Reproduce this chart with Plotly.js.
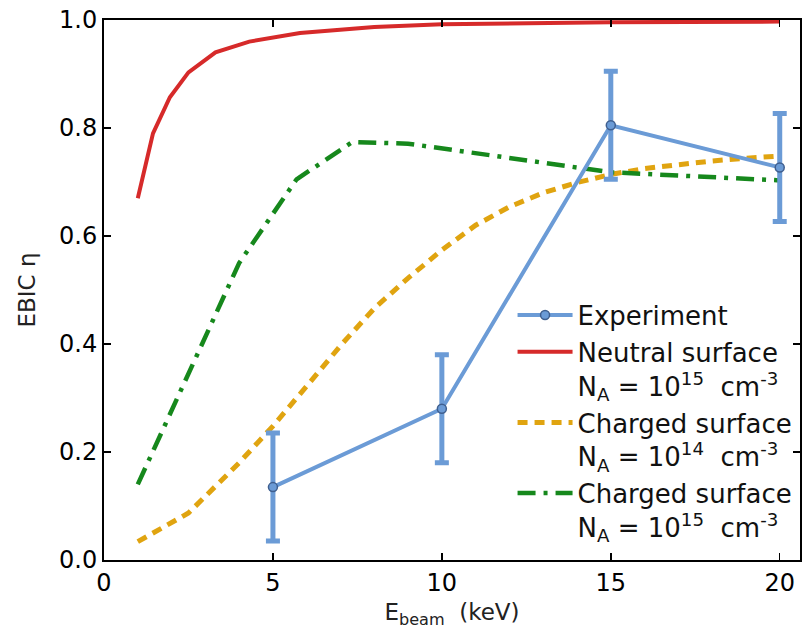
<!DOCTYPE html>
<html>
<head>
<meta charset="utf-8">
<script src="https://cdn.plot.ly/plotly-3.0.1.min.js"></script>
<style>html,body{margin:0;padding:0;background:#fff}#chart{width:802px;height:639px}</style>
</head>
<body>
<div id="chart"></div>
<script>
// Experiment
const expX = [5, 10, 15, 20];
const expY = [0.135, 0.28, 0.805, 0.727];
const expErr = [0.1, 0.1, 0.1, 0.1];

// Neutral surface, N_A = 1e15
const neutralX = [1, 1.45, 1.95, 2.5, 3.3, 4.3, 5.8, 7, 8, 10, 12, 15, 20];
const neutralY = [0.67, 0.79, 0.857, 0.903, 0.94, 0.96, 0.976, 0.983, 0.987, 0.992, 0.994, 0.996, 0.997];

// Charged surface, N_A = 1e14
const charged14X = [1, 2.5, 4, 5, 6, 7, 8, 9, 10, 11, 12, 13, 14, 15, 16, 17, 18, 19, 20];
const charged14Y = [0.034, 0.087, 0.18, 0.248, 0.322, 0.397, 0.466, 0.522, 0.574, 0.62, 0.654, 0.68, 0.699, 0.714, 0.725, 0.733, 0.739, 0.744, 0.748];

// Charged surface, N_A = 1e15
const charged15X = [1, 4, 5.7, 7.35, 9, 12, 15, 20];
const charged15Y = [0.14, 0.55, 0.705, 0.774, 0.771, 0.745, 0.718, 0.703];

const xTicks = [0, 5, 10, 15, 20];
const yTicks = [0.0, 0.2, 0.4, 0.6, 0.8, 1.0];

const FONT = "DejaVu Sans";

const traces = [
  {
    x: neutralX, y: neutralY, mode: "lines", type: "scatter",
    name: "Neutral surface<br>N<sub>A</sub> = 10<sup>15</sup>  cm<sup>-3</sup>",
    line: {color: "#d62a2a", width: 4}, legendrank: 2
  },
  {
    x: charged14X, y: charged14Y, mode: "lines", type: "scatter",
    name: "Charged surface<br>N<sub>A</sub> = 10<sup>14</sup>  cm<sup>-3</sup>",
    line: {color: "#e0a410", width: 5, dash: "10px,7px"}, legendrank: 3
  },
  {
    x: charged15X, y: charged15Y, mode: "lines", type: "scatter",
    name: "Charged surface<br>N<sub>A</sub> = 10<sup>15</sup>  cm<sup>-3</sup>",
    line: {color: "#16881c", width: 4.5, dash: "18px,8px,4px,8px"}, legendrank: 4
  },
  {
    x: expX, y: expY, mode: "lines+markers", type: "scatter",
    name: "Experiment",
    line: {color: "#6b9bd6", width: 4},
    marker: {color: "#6b9bd6", size: 9, line: {color: "#3f5f8f", width: 1.5}},
    error_y: {type: "data", array: expErr, visible: true, color: "#6b9bd6", thickness: 5, width: 7},
    legendrank: 1
  }
];

const axisCommon = {
  showgrid: false, zeroline: false, showline: true, linecolor: "#000", linewidth: 2,
  ticks: "inside", ticklen: 7, tickwidth: 1.5, tickcolor: "#000", mirror: "allticks",
  tickfont: {family: FONT, size: 24, color: "#000"}
};

const layout = {
  width: 802, height: 639,
  margin: {l: 104, r: 2, t: 20, b: 79, pad: 0},
  paper_bgcolor: "#fff", plot_bgcolor: "#fff",
  showlegend: true,
  font: {family: FONT, color: "#000"},
  xaxis: Object.assign({}, axisCommon, {
    range: [0, 20.6], tickvals: xTicks, ticktext: xTicks.map(String),
    title: {text: "E<sub>beam</sub>  (keV)", font: {family: FONT, size: 23, color: "#222"}, standoff: 8}
  }),
  yaxis: Object.assign({}, axisCommon, {
    range: [0, 1], tickvals: yTicks, ticktext: yTicks.map(v => v.toFixed(1)),
    title: {text: "EBIC η", font: {family: FONT, size: 23, color: "#222"}, standoff: 17}
  }),
  legend: {
    x: 0.587, y: 0.497, xanchor: "left", yanchor: "top",
    bgcolor: "rgba(0,0,0,0)", borderwidth: 0,
    font: {family: FONT, size: 26, color: "#111"},
    valign: "top", tracegroupgap: 0, itemwidth: 55
  }
};

Plotly.newPlot("chart", traces, layout, {displayModeBar: false, staticPlot: true});
</script>
</body>
</html>
